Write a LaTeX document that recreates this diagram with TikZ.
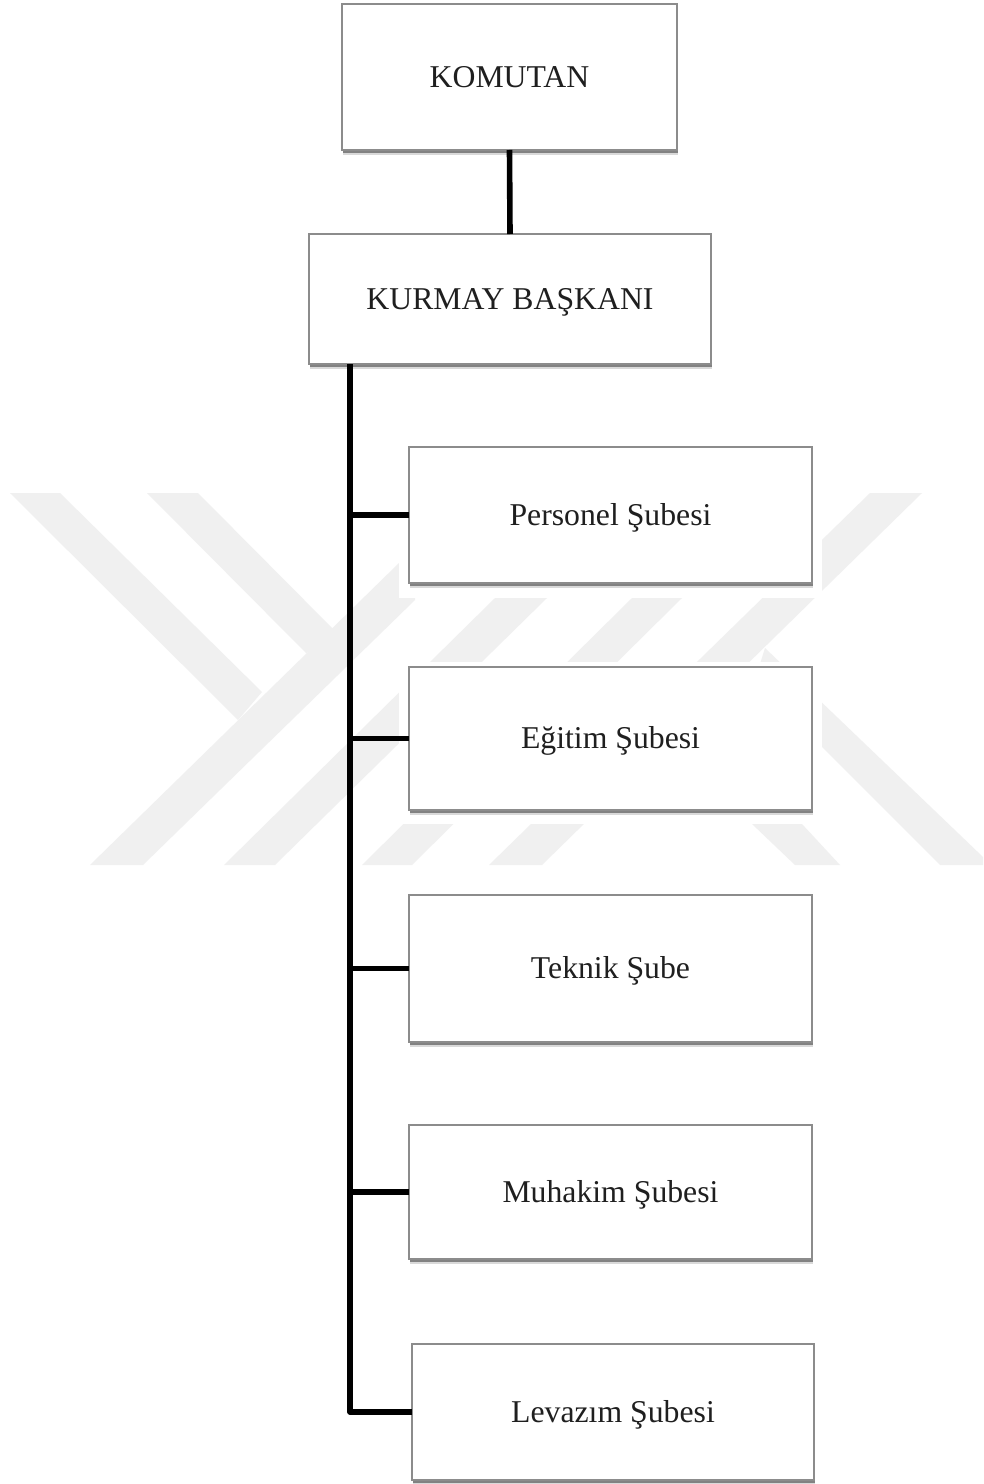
\documentclass[tikz,border=0pt]{standalone}
\usepackage{fontspec}
\setmainfont{Liberation Serif}
\usetikzlibrary{shadows}
\tikzset{
	orgbox/.style={draw=black!45,line width=.9pt,fill=white,inner sep=0pt,outer sep=0pt,
		font=\fontsize{23.8}{28}\selectfont,text=black!88,text height=15.6pt,text depth=0pt,
		general shadow={shadow xshift=.8pt,shadow yshift=-3.6pt,fill=black,opacity=.15},
		general shadow={shadow xshift=.6pt,shadow yshift=-2.2pt,fill=black,opacity=.4}},
	conn/.style={line width=4.2pt,black},
	branch/.style={line width=3.8pt,black},
	wmark/.style={fill=black!6},
	wmask/.style={fill=white}
}
\begin{document}
\begin{tikzpicture}[x=.75pt,y=-.75pt]
	\useasboundingbox (0,0) rectangle (983,1484);
	\fill[white] (0,0) rectangle (983,1484);

	\fill[wmark] (10,493)--(60,493)--(262,692)--(238,720)--cycle;
	\fill[wmark] (147,493)--(198,493)--(340,636)--(306,653)--cycle;
	\fill[wmark] (90,865)--(143,865)--(415,600)--(430,440)--(399,563)--cycle;
	\fill[wmark] (224,865)--(275,865)--(547,598)--(495,598)--cycle;
	\fill[wmark] (362,865)--(412,865)--(682,598)--(632,598)--cycle;
	\fill[wmark] (489,865)--(542,865)--(922,493)--(870,493)--cycle;
	\fill[wmark] (765,648)--(983,857)--(983,865)--(940,865)--(755,680)--cycle;
	\fill[wmark] (752,824)--(802,824)--(840,865)--(795,865)--cycle;

	\fill[wmask] (399,440) rectangle (822,598);
	\fill[wmask] (399,662) rectangle (822,824);

	\node[orgbox,minimum width=335*.75pt,minimum height=146*.75pt] (komutan) at (509.5,77) {KOMUTAN};
	\node[orgbox,minimum width=402*.75pt,minimum height=130*.75pt] (kurmay) at (510,299) {KURMAY BAŞKANI};
	\node[orgbox,minimum width=403*.75pt,minimum height=136*.75pt] (personel) at (610.5,515) {Personel Şubesi};
	\node[orgbox,minimum width=403*.75pt,minimum height=143*.75pt] (egitim) at (610.5,738.5) {Eğitim Şubesi};
	\node[orgbox,minimum width=403*.75pt,minimum height=147*.75pt] (teknik) at (610.5,968.5) {Teknik Şube};
	\node[orgbox,minimum width=403*.75pt,minimum height=134*.75pt] (muhakim) at (610.5,1192) {Muhakim Şubesi};
	\node[orgbox,minimum width=402*.75pt,minimum height=136*.75pt] (levazim) at (613,1412) {Levazım Şubesi};

	\coordinate (trunk) at (350,364);

	\draw[conn] (komutan.south)--(kurmay.north);
	\draw[conn,line join=round] (trunk)|-(levazim.west);
	\draw[branch] (personel.west)--(personel.west-|trunk);
	\draw[branch] (egitim.west)--(egitim.west-|trunk);
	\draw[branch] (teknik.west)--(teknik.west-|trunk);
	\draw[branch] (muhakim.west)--(muhakim.west-|trunk);
\end{tikzpicture}
\end{document}
